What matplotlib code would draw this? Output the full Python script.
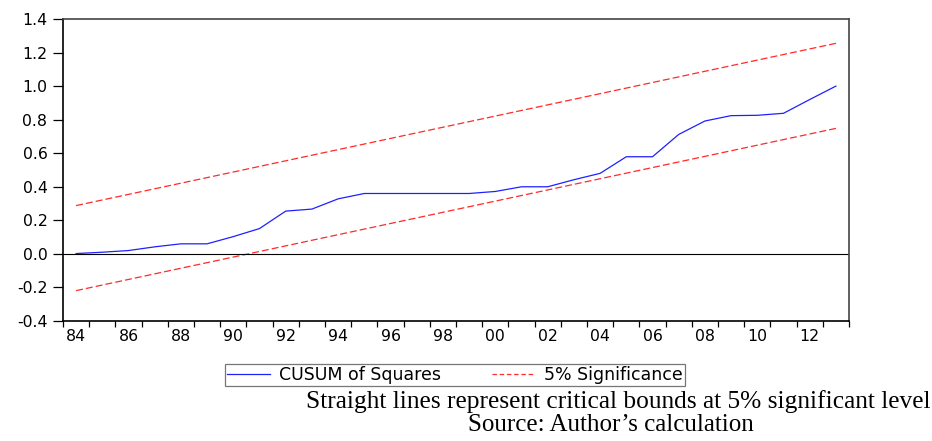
import matplotlib
matplotlib.use("Agg")
import matplotlib.pyplot as plt
from matplotlib.lines import Line2D

# ---- data ----
years = [1984, 1985, 1986, 1987, 1988, 1989, 1990, 1991, 1992, 1993,
         1994, 1995, 1996, 1997, 1998, 1999, 2000, 2001, 2002, 2003,
         2004, 2005, 2006, 2007, 2008, 2009, 2010, 2011, 2012, 2013]
cusum_sq = [0.002, 0.010, 0.020, 0.042, 0.060, 0.060, 0.103, 0.151, 0.255, 0.267,
            0.328, 0.360, 0.360, 0.360, 0.360, 0.360, 0.372, 0.400, 0.400, 0.442,
            0.480, 0.579, 0.579, 0.712, 0.792, 0.824, 0.826, 0.838, 0.920, 1.000]
bound_years = [1984, 2013]
upper_bound = [0.288, 1.255]
lower_bound = [-0.219, 0.748]

ytick_vals = [-0.4, -0.2, 0.0, 0.2, 0.4, 0.6, 0.8, 1.0, 1.2, 1.4]
ytick_labels = ["-0.4", "-0.2", "0.0", "0.2", "0.4", "0.6", "0.8", "1.0", "1.2", "1.4"]
xlabel_years = [1984, 1986, 1988, 1990, 1992, 1994, 1996, 1998, 2000, 2002,
                2004, 2006, 2008, 2010, 2012]
xlabel_text = ["84", "86", "88", "90", "92", "94", "96", "98", "00", "02",
               "04", "06", "08", "10", "12"]

legend_labels = ["CUSUM of Squares", "5% Significance"]
note_line1 = "Straight lines represent critical bounds at 5% significant level"
note_line2 = "Source: Author\u2019s calculation"

# ---- figure ----
plt.rcParams['lines.scale_dashes'] = False
W, H = 932, 441
fig = plt.figure(figsize=(W / 100, H / 100), dpi=100)
ax = fig.add_axes([63 / W, 1 - 321 / H, (849 - 63) / W, (321 - 19) / H])

ax.plot(years, cusum_sq, color="#2020ff", lw=0.9)
ax.plot(bound_years, upper_bound, color="#ff2a2a", lw=0.9, dashes=(5, 2.2))
ax.plot(bound_years, lower_bound, color="#ff2a2a", lw=0.9, dashes=(5, 2.2))
ax.axhline(0, color="black", lw=0.8)

ax.set_xlim(years[0] - 0.5, years[-1] + 0.5)
ax.set_ylim(ytick_vals[0], ytick_vals[-1])

ax.set_yticks(ytick_vals)
ax.set_yticklabels(ytick_labels, fontfamily="DejaVu Sans", fontsize=11.3)
ax.tick_params(axis="y", direction="out", length=7.2, width=0.9, pad=4.0, color="black")

ax.set_xticks([y + 0.5 for y in [years[0] - 1] + years])
ax.set_xticklabels([])
ax.set_xticks(xlabel_years, minor=True)
ax.set_xticklabels(xlabel_text, minor=True, fontfamily="DejaVu Sans", fontsize=11.3)
ax.tick_params(axis="x", which="major", direction="out", length=4.0, width=0.9, color="black")
ax.tick_params(axis="x", which="minor", length=0, pad=6.0)

for side in ["left", "bottom"]:
    ax.spines[side].set_color("black")
    ax.spines[side].set_linewidth(1.2)
for side in ["top", "right"]:
    ax.spines[side].set_color("#444444")
    ax.spines[side].set_linewidth(1.2)

handles = [Line2D([], [], color="#2020ff", lw=0.9),
           Line2D([], [], color="#ff2a2a", lw=0.9, dashes=(3.2, 2.0))]
leg = fig.legend(handles, legend_labels, loc="center", ncol=2,
                 bbox_to_anchor=(455 / W, 1 - 375 / H),
                 prop={"family": "DejaVu Sans", "size": 12.5},
                 frameon=True, fancybox=False, edgecolor="#555555",
                 handlelength=2.45, handletextpad=0.55, columnspacing=2.9,
                 borderpad=0.12, borderaxespad=0)
leg.get_frame().set_linewidth(0.9)

fig.text(930 / W, 1 - 408 / H, note_line1, ha="right", va="baseline",
         fontfamily="Liberation Serif", fontsize=18.3)
fig.text(611 / W, 1 - 431 / H, note_line2, ha="center", va="baseline",
         fontfamily="Liberation Serif", fontsize=18.0)

fig.savefig("out.png", dpi=100)
